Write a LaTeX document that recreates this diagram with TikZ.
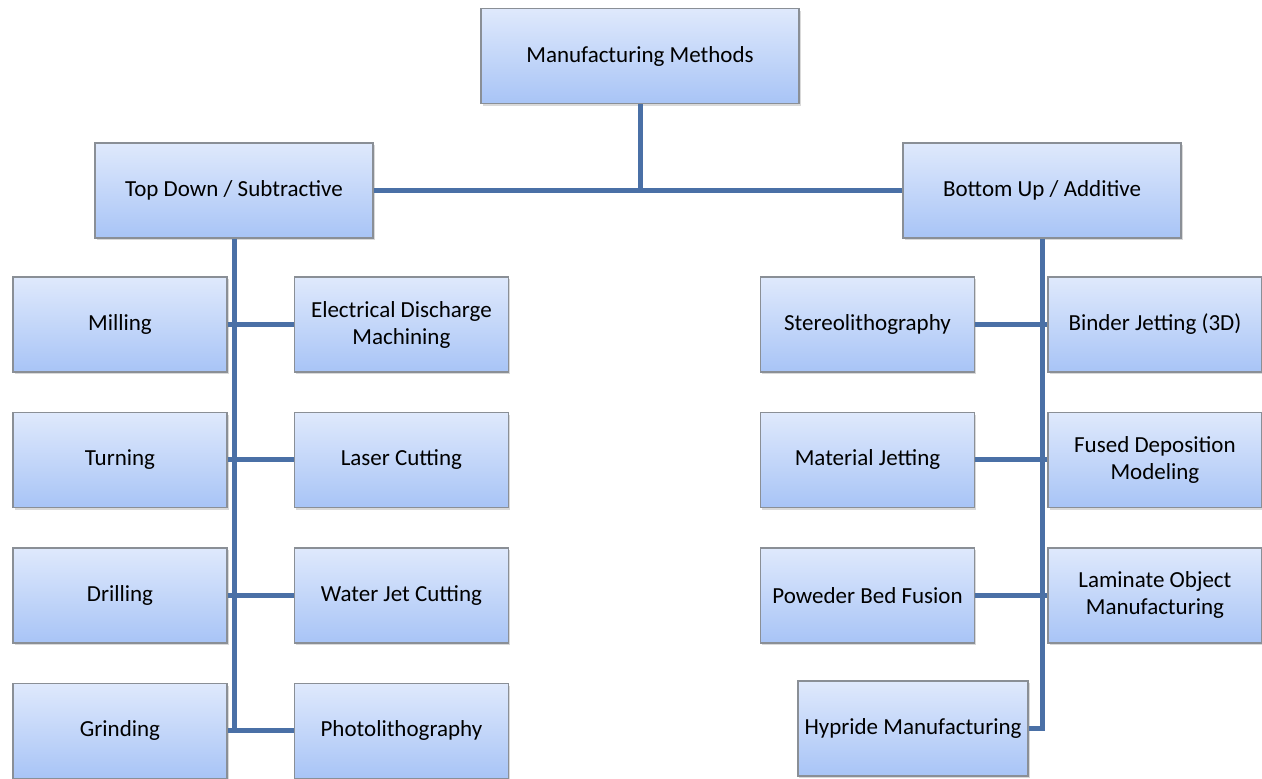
\documentclass[tikz,border=0pt]{standalone}
\usepackage{fontspec}
\setmainfont{Carlito}
\usepackage{tikz}
\usetikzlibrary{positioning,shadows}
\definecolor{boxtop}{HTML}{DFE9FC}
\definecolor{boxbot}{HTML}{A8C4F6}
\definecolor{boxline}{HTML}{8A8F96}
\definecolor{linkblue}{HTML}{4A70A6}

\begin{document}
\begin{tikzpicture}[x=1pt,y=1pt]
  \tikzstyle{box}=[draw=boxline,line width=0.7pt,top color=boxtop,bottom color=boxbot,minimum width=107pt,minimum height=47.5pt,align=center,font=\fontsize{11.5}{13.5}\selectfont,drop shadow={opacity=0.3,shadow xshift=0.8pt,shadow yshift=-1.2pt}]
  \tikzstyle{link}=[draw=linkblue,line width=2.5pt]
  \useasboundingbox (0,0) rectangle (631,-389);
  % top levels
  \node[box,minimum width=159pt] (root) at (320,-28) {Manufacturing Methods};
  \node[box,minimum width=139pt] (td) at (117,-95.25) {Top Down / Subtractive};
  \node[box,minimum width=139pt] (bu) at (521,-95.25) {Bottom Up / Additive};
  % subtractive
  \node[box] (mill) at (60,-162.25) {Milling};
  \node[box,right=33pt of mill] (edm) {Electrical Discharge\\Machining};
  \node[box,below=19.5pt of mill] (turn) {Turning};
  \node[box,right=33pt of turn] (laser) {Laser Cutting};
  \node[box,below=19.5pt of turn] (drill) {Drilling};
  \node[box,right=33pt of drill] (water) {Water Jet Cutting};
  \node[box,below=19.5pt of drill] (grind) {Grinding};
  \node[box,right=33pt of grind] (photo) {Photolithography};
  % additive
  \node[box] (stereo) at (433.75,-162.25) {Stereolithography};
  \node[box,right=36pt of stereo] (binder) {Binder Jetting (3D)};
  \node[box,below=19.5pt of stereo] (matjet) {Material Jetting};
  \node[box,right=36pt of matjet] (fdm) {Fused Deposition\\Modeling};
  \node[box,below=19.5pt of matjet] (pbf) {Poweder Bed Fusion};
  \node[box,right=36pt of pbf] (lom) {Laminate Object\\Manufacturing};
  \node[box,minimum width=115pt] (hyb) at (456.5,-364.25) {Hypride Manufacturing};
  % connectors
  \draw[link] (td.east) -- (bu.west);
  \draw[link] (root.south) -- (root.south |- td.east);
  \draw[link] (td.south) -- (td.south |- grind.east);
  \draw[link] (mill.east) -- (edm.west);
  \draw[link] (turn.east) -- (laser.west);
  \draw[link] (drill.east) -- (water.west);
  \draw[link] (grind.east) -- (photo.west);
  \draw[link] (bu.south) -- (bu.south |- hyb.east) -- (hyb.east);
  \draw[link] (stereo.east) -- (binder.west);
  \draw[link] (matjet.east) -- (fdm.west);
  \draw[link] (pbf.east) -- (lom.west);
\end{tikzpicture}
\end{document}
